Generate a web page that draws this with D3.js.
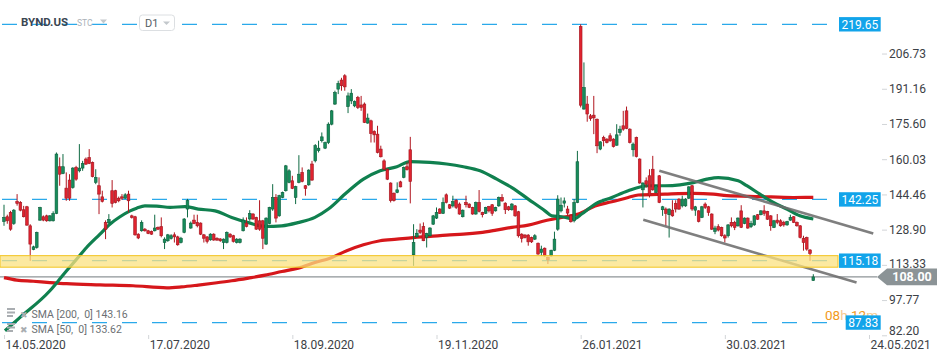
<!DOCTYPE html>
<html><head><meta charset="utf-8">
<script src="https://cdn.jsdelivr.net/npm/d3@7"></script>
<style>body{margin:0;background:#fff;} svg{display:block;font-family:Roboto, "Noto Sans", sans-serif;}</style>
</head><body><svg id="c" width="950" height="361"></svg>
<script>
// ---------- data ----------
const openP = [132.5,134.6,136.5,131.6,141.35,140.9,137.7,139.0,130.6,120.1,
121.0,133.1,134.6,135.0,132.8,132.8,136.05,156.7,153.7,147.25,
150.8,147.5,156.4,154.9,156.1,160.1,160.8,158.6,149.8,148.3,
143.4,132.1,131.9,146.1,146.1,142.8,143.4,142.8,144.6,135.0,
134.6,126.9,128.4,129.1,128.4,128.1,128.4,129.9,130.2,123.2,
124.0,125.0,126.6,125.7,123.2,127.7,138.0,129.6,133.1,132.1,
131.8,126.6,125.7,124.4,126.9,125.1,124.8,123.2,123.2,126.9,
126.2,123.2,123.2,128.4,131.8,133.6,135.8,134.3,132.8,132.8,
122.5,131.6,138.0,143.1,135.0,143.1,146.1,149.8,150.5,143.1,
149.8,154.2,148.3,148.7,157.9,159.3,163.8,168.2,164.9,167.4,
175.5,184.4,191.0,195.0,196.9,183.3,185.8,183.6,187.3,184.0,
184.4,176.0,177.0,172.3,171.1,164.5,159.3,155.6,149.5,145.0,
145.3,150.0,152.0,156.7,164.2,117.8,125.7,128.7,130.2,125.4,
126.2,131.3,134.0,138.0,136.1,144.3,139.9,139.4,141.9,140.2,
134.6,140.9,140.2,138.7,135.8,140.9,136.5,136.1,139.1,139.9,
137.2,139.4,143.1,140.6,139.0,137.7,139.4,136.8,126.9,126.5,
126.5,125.4,124.7,122.9,118.8,120.7,116.6,117.3,119.8,129.1,
137.2,140.6,138.0,135.3,132.8,140.9,218.7,182.2,184.4,179.2,
179.5,177.7,164.5,169.6,168.9,170.4,168.9,166.2,171.85,174.8,
181.4,173.3,164.2,169.6,160.1,146.5,150.5,152.7,155.6,145.3,
152.7,137.7,138.0,135.5,137.5,140.5,142.4,139.4,139.4,142.8,
148.3,137.5,137.2,134.3,140.2,139.0,135.8,128.1,130.2,129.9,
126.2,126.2,132.1,132.1,130.6,137.2,131.6,134.0,130.2,131.0,
135.5,135.5,137.2,136.9,135.0,129.9,133.1,132.8,132.1,131.0,
133.1,134.6,132.1,130.6,125.1,125.4,119.9,106.4];
const highP = [139.9,135.5,137.2,138.0,144.6,141.5,139.4,139.4,131.3,121.8,
128.0,139.0,135.2,135.5,135.3,137.0,163.0,160.8,162.3,154.2,
153.4,156.5,157.1,166.7,159.3,160.8,164.5,159.0,155.6,152.0,
146.1,133.0,135.75,150.8,146.5,143.5,144.6,145.0,146.1,135.5,
135.0,127.3,133.0,129.6,128.8,128.5,135.5,130.3,134.3,125.5,
127.0,126.9,127.7,126.2,125.7,134.0,142.5,132.5,135.5,135.5,
132.1,127.0,126.0,127.3,127.3,125.5,125.1,125.0,128.1,127.3,
126.6,125.1,125.1,134.3,134.3,137.5,136.2,134.6,141.9,133.2,
134.3,139.0,149.0,144.6,144.3,145.7,157.5,155.6,152.7,148.3,
161.8,156.4,148.6,155.6,159.3,166.7,168.2,171.85,167.8,176.3,
181.8,190.3,194.7,196.0,197.6,189.5,191.0,186.0,188.0,188.0,
185.1,180.2,177.5,172.8,174.8,166.0,160.0,156.0,149.8,145.3,
149.8,150.5,156.8,158.6,169.9,131.3,129.1,131.6,132.1,127.5,
130.0,135.4,138.7,138.4,143.1,144.9,140.2,143.9,142.4,140.9,
137.8,143.9,140.5,139.0,141.3,146.4,136.8,139.0,139.4,140.2,
139.0,143.5,144.6,141.0,139.4,140.6,139.8,137.2,127.3,126.9,
126.9,125.8,126.9,123.2,121.8,121.0,117.0,120.0,128.0,144.1,
143.1,143.1,139.4,135.6,142.4,163.7,219.65,202.8,188.0,180.0,
188.0,178.0,168.0,170.4,169.3,171.5,169.3,175.5,174.8,181.4,
183.3,173.7,167.4,170.0,160.4,149.8,152.0,155.6,161.5,148.6,
153.0,139.4,138.7,138.3,141.9,141.9,142.8,143.9,142.8,148.1,
148.6,139.4,137.5,139.4,140.9,139.4,136.1,130.6,131.3,130.2,
126.9,131.3,134.3,132.8,134.3,139.7,134.3,134.3,132.8,135.3,
135.8,137.5,139.7,137.2,135.3,133.2,135.8,133.5,132.8,132.8,
135.5,134.9,132.5,130.9,126.2,125.8,120.3,109.2];
const lowP = [130.6,131.5,128.4,131.0,139.5,137.0,134.3,130.6,115.1,119.8,
120.5,132.8,132.6,132.4,132.5,132.5,135.75,148.3,153.4,141.65,
141.65,147.0,150.5,154.2,154.9,157.5,157.85,152.0,149.0,135.75,
140.9,124.7,131.5,138.7,140.5,141.0,142.0,142.5,136.5,133.8,
126.2,124.7,128.0,128.0,126.9,126.6,128.1,128.7,125.5,120.3,
123.5,124.5,123.2,121.8,122.8,127.3,134.3,129.3,131.3,129.9,
126.5,123.2,122.8,124.0,124.0,123.9,123.5,120.3,122.8,125.2,
123.2,122.8,122.8,128.1,129.9,132.8,133.2,128.8,128.4,120.3,
122.2,131.3,137.2,132.1,134.6,142.8,145.7,149.4,146.8,140.2,
149.4,149.8,143.9,148.3,150.5,158.6,163.0,167.4,164.5,166.7,
175.0,184.0,188.8,190.3,190.3,180.4,184.4,183.0,182.2,181.4,
176.0,175.7,167.4,167.4,162.6,160.8,155.2,150.8,140.9,141.3,
145.0,147.6,151.6,155.0,140.5,112.9,125.4,126.9,123.8,121.0,
125.8,131.0,133.6,135.8,135.8,140.5,138.0,138.7,138.0,135.5,
134.3,138.7,138.4,135.5,135.5,136.5,134.3,135.8,136.5,135.0,
136.9,139.0,141.2,135.8,137.2,137.3,134.6,125.4,123.2,125.0,
121.8,123.0,124.3,117.8,117.3,117.0,113.7,117.0,119.4,128.4,
136.5,138.7,135.0,132.0,132.1,140.6,182.9,181.9,176.6,177.0,
171.1,162.7,164.0,165.7,167.0,167.7,165.2,166.0,170.4,172.6,
173.3,167.0,161.2,160.8,149.2,138.7,147.5,143.1,146.1,145.0,
140.6,135.0,130.6,125.4,134.6,136.5,137.6,138.7,139.0,142.4,
137.2,135.0,132.1,134.0,138.0,135.0,128.8,126.9,128.1,125.8,
123.2,125.4,129.9,128.7,130.2,129.6,131.3,129.3,129.6,130.6,
133.2,135.2,135.0,133.2,128.4,129.6,131.3,130.2,130.2,130.6,
132.8,131.8,130.2,125.0,119.6,119.6,115.1,106.3];
const closeP = [134.3,132.8,129.1,137.5,140.5,137.5,134.6,130.9,122.5,121.3,
127.7,138.7,133.1,132.8,135.0,136.05,162.3,153.4,156.7,142.8,
142.8,156.1,151.2,156.1,158.15,157.85,158.15,152.3,152.0,144.6,
141.35,129.1,133.4,140.5,140.9,141.65,142.8,144.3,141.65,134.3,
126.6,125.2,132.1,128.4,127.2,126.9,129.6,129.1,126.2,124.7,
126.6,126.2,125.7,122.2,125.1,133.6,141.7,131.8,131.6,130.6,
126.9,125.1,123.7,126.9,124.3,124.3,124.0,124.7,127.7,125.7,
123.7,124.7,124.7,133.1,130.3,136.1,133.6,129.1,129.1,125.1,
134.0,138.7,143.1,134.0,143.9,145.3,157.1,154.9,147.1,147.9,
153.4,150.2,147.1,155.2,150.8,166.0,164.9,169.9,167.4,175.5,
181.4,189.5,193.5,192.5,192.0,188.0,189.2,185.5,182.9,182.9,
176.3,178.2,171.4,170.8,163.0,161.1,155.6,151.2,141.7,141.7,
146.5,147.8,156.4,155.4,150.2,123.2,127.3,127.7,124.0,127.2,
129.6,135.0,136.5,136.1,140.9,140.9,138.4,141.3,138.7,135.8,
137.5,139.9,138.7,135.8,140.9,137.0,135.5,138.7,137.2,136.1,
138.7,143.1,141.6,137.7,137.7,140.2,135.0,126.2,125.0,125.4,
123.5,123.5,126.2,118.1,120.3,117.3,115.6,119.8,124.7,142.4,
139.7,141.6,136.2,132.4,140.9,158.9,183.9,191.7,180.0,178.0,
178.3,165.95,167.7,168.2,167.4,168.2,165.6,170.8,173.3,173.3,
173.6,167.4,166.7,161.2,149.5,149.5,149.0,143.9,146.5,148.3,
140.9,139.0,136.05,138.0,135.0,138.0,138.0,142.4,142.4,147.8,
138.0,139.0,132.5,139.0,138.7,136.5,129.1,129.6,128.7,126.2,
125.2,131.0,130.6,129.9,134.0,129.9,134.0,129.6,131.6,135.0,
133.5,137.2,136.05,133.5,130.6,132.8,132.1,130.6,131.0,132.5,
134.3,132.1,130.6,125.4,123.2,120.3,118.4,108.0];

const sma50Idx = [0.3,4.9,14.0,16.6,19.1,22.2,25.2,29.3,32.4,35.4,38.5,40.5,43.0,46.6,50.7,55.2,59.3,64.4,69.5,74.6,79.7,84.8,89.7,94.9,99.0,104.6,109.7,114.8,119.9,123.9,130.0,135.1,140.2,145.3,150.4,155.0,160.0,165.1,167.2,170.2,173.8,176.3,180.4,185.5,190.5,196.6,201.7,206.3,210.4,214.5,218.0,224.1,226.7,230.7,234.8,238.9,242.9,247];
const sma50Val = [84.2,90.1,101.9,106.3,110.7,115.9,121.0,126.9,131.4,134.6,137.2,138.4,139.4,139.3,138.7,139.1,138.0,137.2,134.3,132.0,130.3,130.6,132.0,134.3,138.0,145.3,151.2,154.9,156.7,159.0,158.6,157.9,156.7,154.9,151.2,147.5,142.4,137.2,135.0,134.6,133.6,135.8,140.2,143.1,146.1,148.3,148.3,148.7,149.7,151.2,151.9,150.5,148.3,144.6,140.9,138.0,135.0,133.62];
const sma200Idx = [0,3.9,8.9,14.0,19.1,29.3,39.4,49.7,54.2,59.3,64.4,69.5,74.6,79.7,84.8,89.8,94.9,99.5,104.6,109.7,114.8,119.9,124.9,130.0,135.1,140.2,145.3,150.2,155.0,160.0,165.1,170.2,175.3,180.4,185.5,190.5,193.6,201.7,210.4,216.5,220.6,230.7,240.9,247];
const sma200Val = [107.7,106.6,106.1,105.5,105.0,104.5,104.1,103.2,103.6,104.4,105.3,106.3,107.5,108.8,110.4,111.9,114.4,116.3,119.6,122.2,124.0,124.7,125.4,125.9,126.5,126.9,127.6,128.7,129.9,130.9,132.8,134.3,135.8,139.4,141.2,143.1,144.2,144.6,144.9,144.6,143.9,143.5,143.1,143.16];

const channelUpperIdx = [200.0, 265.3], channelUpperVal = [154.9, 127.2];
const channelLowerIdx = [195.1, 260.2], channelLowerVal = [133.25, 105.5];

const xTickIdx = [0, 44, 88, 132, 176, 220, 264];
const xTickLabels = ["14.05.2020","17.07.2020","18.09.2020","19.11.2020","26.01.2021","30.03.2021","24.05.2021"];
const yTicks = [82.20, 97.77, 113.33, 128.90, 144.46, 160.03, 175.60, 191.16, 206.73];
const levelValues = [219.65, 142.25, 115.18, 87.83];
const zoneRange = [112.3, 117.4];
const lastPrice = 108.00;
const legendLabels = ["SMA [200,  0] 143.16", "SMA [50,  0] 133.62"];
const symbol = "BYND.US", symbolType = "STC", interval = "D1";

// ---------- scales ----------
const svg = d3.select('#c');
const x = d3.scaleLinear().domain([0, 247]).range([4, 813.3]);
const y = d3.scaleLinear().domain([82.20, 219.65]).range([335.3, 24.3]);
const fmt = d3.format('.2f');

// level dashed lines
svg.append('g').selectAll('line').data(levelValues).join('line')
  .attr('x1', 2).attr('x2', 838).attr('y1', d => y(d)).attr('y2', d => y(d))
  .attr('stroke', '#2aa9ea').attr('stroke-width', 1.3).attr('stroke-dasharray', '15 15');

// header
const hdr = svg.append('g');
hdr.append('text').attr('x', 21).attr('y', 26).text(symbol)
  .attr('font-size', 11.5).attr('font-weight', 'bold').attr('fill', '#3b4652');
hdr.append('text').attr('x', 77).attr('y', 26).text(symbolType)
  .attr('font-size', 8.5).attr('fill', '#aab1b8');
hdr.append('path').attr('d', 'M100,19.5 L107,19.5 L103.5,23.5 Z').attr('fill', '#c3c8cc');
hdr.append('rect').attr('x', 139.5).attr('y', 15).attr('width', 35).attr('height', 15.5).attr('rx', 3)
  .attr('fill', '#fff').attr('stroke', '#dcdfe2');
hdr.append('text').attr('x', 145).attr('y', 26.5).text(interval).attr('font-size', 11).attr('fill', '#555c63');
hdr.append('path').attr('d', 'M163,21.5 L170,21.5 L166.5,25 Z').attr('fill', '#c3c8cc');

// last price line
svg.append('line').attr('x1', 0).attr('x2', 877).attr('y1', y(lastPrice)).attr('y2', y(lastPrice))
  .attr('stroke', '#8e9497').attr('stroke-width', 1.2);

// SMA lines
const line = d3.line().curve(d3.curveMonotoneX);
svg.append('path').attr('d', line(sma200Idx.map((d, i) => [x(d), y(sma200Val[i])])))
  .attr('fill', 'none').attr('stroke', '#d6171b').attr('stroke-width', 3.2).attr('stroke-linejoin', 'round');
svg.append('path').attr('d', line(sma50Idx.map((d, i) => [x(d), y(sma50Val[i])])))
  .attr('fill', 'none').attr('stroke', '#10804f').attr('stroke-width', 3.2).attr('stroke-linejoin', 'round');

// candles
const idx = d3.range(openP.length);
const up = i => closeP[i] >= openP[i];
const cg = svg.append('g');
cg.selectAll('line').data(idx).join('line')
  .attr('x1', i => x(i)).attr('x2', i => x(i))
  .attr('y1', i => y(highP[i])).attr('y2', i => y(lowP[i]))
  .attr('stroke', i => up(i) ? '#0f6a43' : '#b0161f').attr('stroke-width', 1);
cg.selectAll('rect').data(idx).join('rect')
  .attr('x', i => x(i) - 1.35).attr('width', 2.7)
  .attr('y', i => y(Math.max(openP[i], closeP[i])))
  .attr('height', i => Math.max(1, Math.abs(y(openP[i]) - y(closeP[i]))))
  .attr('fill', i => up(i) ? '#178c5b' : '#e0232f')
  .attr('stroke', i => up(i) ? '#0c5e3c' : '#9e1620').attr('stroke-width', 0.6);

// channel lines
[[channelUpperIdx, channelUpperVal], [channelLowerIdx, channelLowerVal]].forEach(([ix, vv]) => {
  svg.append('line').attr('x1', x(ix[0])).attr('y1', y(vv[0])).attr('x2', x(ix[1])).attr('y2', y(vv[1]))
    .attr('stroke', '#6e6e6e').attr('stroke-width', 2.6).attr('opacity', 0.88);
});

// zone band
svg.append('rect').attr('x', 0).attr('width', 838)
  .attr('y', y(zoneRange[1])).attr('height', y(zoneRange[0]) - y(zoneRange[1]))
  .attr('fill', 'rgba(251,226,128,0.75)').attr('stroke', '#f2c420').attr('stroke-width', 1);

// legend
const lg = svg.append('g');
legendLabels.forEach((t, k) => {
  const cy = 314 + k * 15;
  lg.append('rect').attr('x', 7).attr('y', cy - 6).attr('width', 8).attr('height', 2).attr('fill', '#a9adb1');
  lg.append('rect').attr('x', 7).attr('y', cy - 2.5).attr('width', 8).attr('height', 2).attr('fill', '#a9adb1');
  lg.append('rect').attr('x', 7).attr('y', cy + 1).attr('width', 6).attr('height', 2).attr('fill', '#a9adb1');
  lg.append('text').attr('x', 19.5).attr('y', cy + 4).text('\u2716').attr('font-size', 9).attr('fill', '#a9adb1');
  lg.append('text').attr('x', 31.5).attr('y', cy + 4).text(t).attr('font-size', 10.5).attr('fill', '#6b6f73')
    .style('white-space', 'pre');
});

// countdown text
const cd = svg.append('text').attr('x', 825).attr('y', 320).attr('font-size', 13.5);
cd.append('tspan').text('08').attr('fill', '#f29a1d');
cd.append('tspan').text('h ').attr('fill', '#f6c98e');
cd.append('tspan').text('12').attr('fill', '#f29a1d');
cd.append('tspan').text('m').attr('fill', '#f6c98e');

// level labels
const lbl = svg.append('g');
levelValues.forEach(v => {
  const bx = v === 87.83 ? 845.7 : 839, bw = 880.7 - bx;
  lbl.append('rect').attr('x', bx).attr('y', y(v) - 7.2).attr('width', bw).attr('height', 14.4).attr('fill', '#12a4ea');
  lbl.append('text').attr('x', bx + bw / 2).attr('y', y(v) + 4.3).attr('text-anchor', 'middle')
    .text(fmt(v)).attr('font-size', 12).attr('fill', '#fff');
});
// last price arrow
const ly = y(lastPrice);
lbl.append('path').attr('d', `M877,${ly} L887,${ly - 8.3} L937,${ly - 8.3} L937,${ly + 8.3} L887,${ly + 8.3} Z`)
  .attr('fill', '#8b9396');
lbl.append('text').attr('x', 912).attr('y', ly + 4.5).attr('text-anchor', 'middle').text(fmt(lastPrice))
  .attr('font-size', 12.5).attr('font-weight', 'bold').attr('fill', '#fff');

// y axis
const ga = svg.append('g').attr('transform', 'translate(882,0)')
  .call(d3.axisRight(y).tickValues(yTicks).tickFormat(fmt).tickSize(5).tickPadding(2));
ga.select('.domain').remove();
ga.selectAll('.tick line').attr('stroke', '#d2d5d8');
ga.selectAll('.tick text').attr('fill', '#3c4146').style('font-size', '12px').style('font-family', 'Roboto');
ga.selectAll('.tick').filter(d => d === yTicks[0]).select('text').attr('y', -4.6);
ga.selectAll('.tick').filter(d => d === yTicks[2]).select('text').attr('y', -1.5);

// x axis
const gx = svg.append('g').attr('transform', 'translate(0,335)')
  .call(d3.axisBottom(x).tickValues(xTickIdx).tickFormat((d, i) => xTickLabels[i]).tickSize(4).tickPadding(1));
gx.select('.domain').remove();
gx.selectAll('.tick line').attr('stroke', '#d2d5d8');
gx.selectAll('.tick text').attr('fill', '#3c4146').attr('text-anchor', 'start').attr('dx', 1)
  .style('font-size', '12px').style('font-family', 'Roboto');
</script></body></html>
